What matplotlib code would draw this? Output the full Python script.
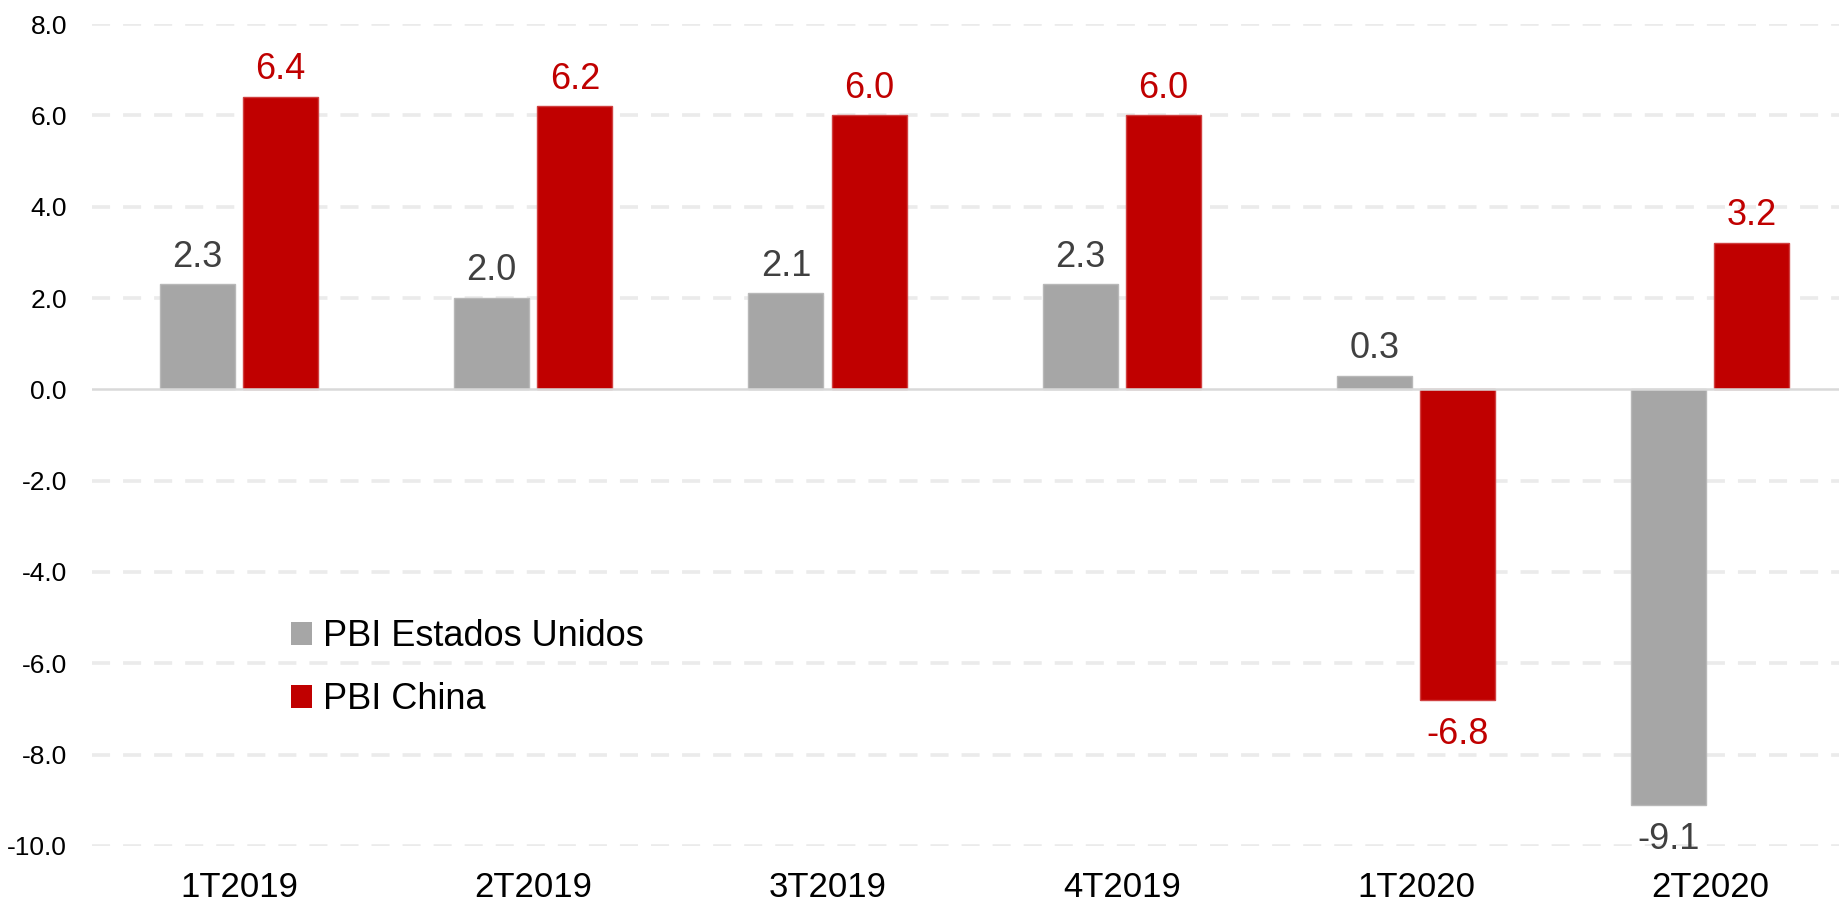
import matplotlib
matplotlib.use('Agg')
import matplotlib.pyplot as plt
import numpy as np
from matplotlib.patches import Patch

quarters = ['1T2019', '2T2019', '3T2019', '4T2019', '1T2020', '2T2020']
pbi_eeuu = [2.3, 2.0, 2.1, 2.3, 0.3, -9.1]
pbi_china = [6.4, 6.2, 6.0, 6.0, -6.8, 3.2]
y_ticks = [8.0, 6.0, 4.0, 2.0, 0.0, -2.0, -4.0, -6.0, -8.0, -10.0]

grey = '#a6a6a6'
red = '#c00000'

plt.rcParams['font.family'] = ['Liberation Sans', 'DejaVu Sans']

fig = plt.figure(figsize=(18.39, 9.07), dpi=100)
ax = fig.add_axes([0.05, 0.0673, 0.960, 0.9062])

x = np.arange(len(quarters))
w = 0.255
off = 0.1415
b1 = ax.bar(x - off, pbi_eeuu, w, color=grey, edgecolor='#b8b8b8', linewidth=1, zorder=3)
b2 = ax.bar(x + off, pbi_china, w, color=red, edgecolor='#d04040', linewidth=1, zorder=3)

ax.set_ylim(-10, 8)
ax.set_xlim(-0.5, len(quarters) - 0.5)
ax.set_yticks(y_ticks)
ax.set_yticklabels(['{:.1f}'.format(v) for v in y_ticks])
ax.set_xticks(x)
ax.set_xticklabels(quarters)
ax.tick_params(axis='y', length=0, pad=18, labelsize=19)
ax.tick_params(axis='x', length=0, pad=18, labelsize=25)

for s in ax.spines.values():
    s.set_visible(False)

# lineas de grilla punteadas
for t in y_ticks:
    if t != 0:
        ax.axhline(t, color='#ebebeb', linewidth=2.6, dashes=(5, 3.6), zorder=1)
ax.axhline(0, color='#d9d9d9', linewidth=1.8, zorder=4)

for rects, vals, col in [(b1, pbi_eeuu, '#404040'), (b2, pbi_china, red)]:
    for r, v in zip(rects, vals):
        cx = r.get_x() + r.get_width() / 2
        if v >= 0:
            ax.annotate('{:.1f}'.format(v), (cx, v), xytext=(0, 7), textcoords='offset points',
                        ha='center', va='bottom', fontsize=26, color=col)
        else:
            ax.annotate('{:.1f}'.format(v), (cx, v), xytext=(0, -12), textcoords='offset points',
                        ha='center', va='top', fontsize=26, color=col)

handles = [Patch(facecolor=grey, label='PBI Estados Unidos'),
           Patch(facecolor=red, label='PBI China')]
ax.legend(handles=handles, loc='upper left', bbox_to_anchor=(0.113, 0.276), frameon=False,
          fontsize=26, handlelength=0.58, handleheight=0.58, handletextpad=0.3,
          labelspacing=0.78, borderpad=0, borderaxespad=0)

fig.savefig('out.png', dpi=100)
